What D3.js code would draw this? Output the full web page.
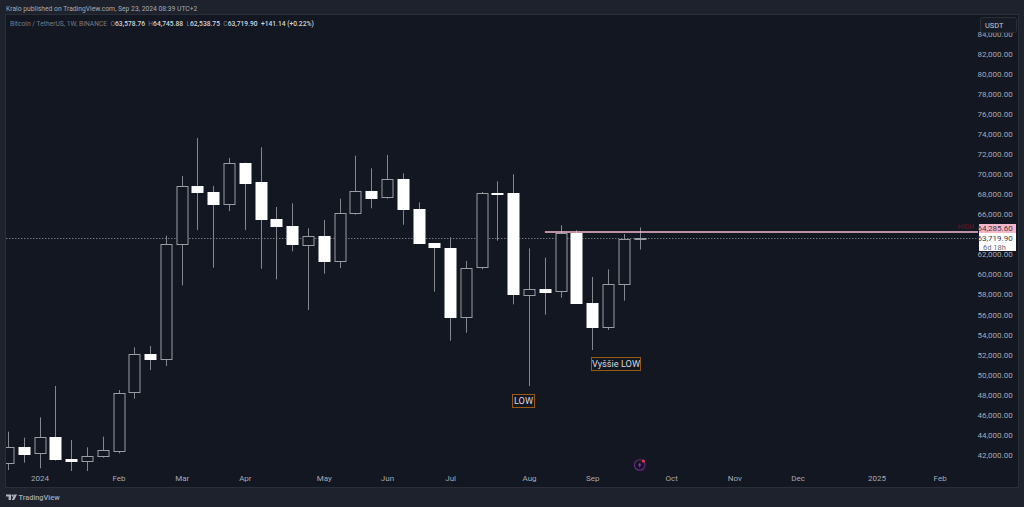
<!DOCTYPE html>
<html><head><meta charset="utf-8">
<script src="https://cdn.jsdelivr.net/npm/d3@7"></script>
<style>
html,body{margin:0;padding:0;background:#1e222d;overflow:hidden}
svg{display:block}
text{font-family:Roboto,"Liberation Sans",sans-serif}
</style></head><body>
<svg id="c" width="1024" height="507"></svg>
<script>
const opens  = [41282,42878,42219,43845,41681,41521,41950,42519,48264,52094,51626,63067,68882,68314,67157,71207,69252,65591,64892,63067,63925,61431,66219,68414,67715,69551,66588,63167,62728,55815,60733,68154,68154,58080,58638,58379,64194,57242,54818,59077,63578.76];
const closes = [42878,42219,43845,41681,41521,41980,42519,48264,52094,51626,63067,68882,68314,67157,71207,69252,65591,64892,63067,63925,61431,66219,68414,67715,69551,66588,63167,62728,55815,60733,68154,68084,58080,58638,58379,64194,57242,54818,59077,63578,63719.90];
const highs  = [44374,43776,45810,48932,43546,42818,43875,48533,52793,52922,63925,69880,73670,68882,71675,71207,72743,66788,67157,64663,65491,67615,71905,70648,71975,70149,67257,63167,63765,61401,68284,69351,70050,62668,61730,64962,64463,59805,60573,64094,64745.88];
const lows   = [40553,41282,40723,41481,40384,40384,41780,42219,47666,50528,50927,58977,64493,60733,66389,64493,60633,59576,62369,56513,60134,60703,66020,66658,67615,65022,63167,58339,53451,54249,60573,63426,57082,48932,56045,57740,57182,52523,54518,57441,62538.75];
const priceTicks = [42000,44000,46000,48000,50000,52000,54000,56000,58000,60000,62000,66000,68000,70000,72000,74000,76000,78000,80000,82000,84000];
const timeTickIndex = [2,7,11,15,20,24,28,33,37,42,46,50,55,59];
const timeTickLabels = ["2024","Feb","Mar","Apr","May","Jun","Jul","Aug","Sep","Oct","Nov","Dec","2025","Feb"];
const highLevel = 64285.60, lastPrice = 63719.90;
const legendParts = [["Bitcoin / TetherUS, 1W, BINANCE  ","#787b86"],["O","#787b86"],["63,578.76 ","#d1d4dc"],[" H","#787b86"],["64,745.88 ","#d1d4dc"],[" L","#787b86"],["62,538.75 ","#d1d4dc"],[" C","#787b86"],["63,719.90 ","#d1d4dc"],[" +141.14 (+0.22%)","#d1d4dc"]];

const W=1024,H=507;
const plot={l:6,t:15,r:1018,b:487};
const svg=d3.select("#c");
const x=d3.scaleLinear().domain([0,59]).range([8,939.6]);
const y=d3.scaleLinear().domain([42000,82000]).range([455.5,54.5]);
const fmt=d3.format(",.2f");

svg.append("rect").attr("width",W).attr("height",H).attr("fill","#1e222d");
svg.append("rect").attr("x",plot.l).attr("y",plot.t).attr("width",plot.r-plot.l).attr("height",plot.b-plot.t).attr("fill","#131722");
svg.append("path").attr("d",`M${plot.l-.5},${plot.t-.5}H${plot.r+.5}V${plot.b+.5}H${plot.l-.5}Z`).attr("fill","none").attr("stroke","#2a2e39");
svg.append("defs").append("clipPath").attr("id","pc").append("rect").attr("x",plot.l).attr("y",plot.t).attr("width",978-plot.l).attr("height",470-plot.t+1);

// price axis
const ya=svg.append("g").attr("transform","translate(1012.7,-0.7)")
  .call(d3.axisLeft(y).tickValues(priceTicks).tickSize(0).tickPadding(0).tickFormat(fmt));
ya.select(".domain").remove();
ya.selectAll("text").attr("fill","#a6a9b2").attr("font-size","8px").attr("font-family","Roboto,sans-serif").attr("text-anchor","end");

// time axis
const xa=svg.append("g").attr("transform","translate(0,475)")
  .call(d3.axisBottom(x).tickValues(timeTickIndex).tickSize(0).tickPadding(0).tickFormat((d,i)=>timeTickLabels[i]));
xa.select(".domain").remove();
xa.selectAll("text").attr("fill","#a6a9b2").attr("font-size","8px").attr("font-family","Roboto,sans-serif");

// last price dashed line
const marks=svg.append("g").attr("clip-path","url(#pc)");
marks.append("line").attr("x1",plot.l).attr("x2",978).attr("y1",Math.round(y(lastPrice))+.5).attr("y2",Math.round(y(lastPrice))+.5)
  .attr("stroke","#70737c").attr("stroke-dasharray","1.5 1.5");

const candles=marks.selectAll("g.c").data(opens.map((o,i)=>({i,o,c:closes[i],h:highs[i],l:lows[i]}))).join("g").attr("class","c");
candles.append("line").attr("x1",d=>Math.round(x(d.i))+.5).attr("x2",d=>Math.round(x(d.i))+.5)
  .attr("y1",d=>y(d.h)).attr("y2",d=>y(d.l)).attr("stroke","#85878f").attr("stroke-width",1);
candles.append("rect")
  .attr("x",d=>Math.round(x(d.i))-5)
  .attr("width",11)
  .attr("y",d=>Math.round(y(Math.max(d.o,d.c)))+.5)
  .attr("height",d=>Math.max(1,Math.round(Math.abs(y(d.o)-y(d.c)))))
  .attr("fill",d=>d.c>=d.o?"#131722":"#ffffff")
  .attr("stroke",d=>d.c>=d.o?"#9b9da4":"#ffffff").attr("stroke-width",1);

// HIGH line
marks.append("line").attr("x1",x(34)).attr("x2",978).attr("y1",y(highLevel)).attr("y2",y(highLevel)).attr("stroke","#f8bbd0").attr("stroke-width",1.5);
svg.append("text").attr("x",974).attr("y",229).attr("text-anchor","end").attr("fill","#6e1a26").attr("font-size","6.8px").text("HIGH");

// price labels
const lb=svg.append("g");
lb.append("rect").attr("x",979).attr("y",224).attr("width",37).attr("height",9).attr("fill","#f4b6cb");
lb.append("rect").attr("x",979).attr("y",233).attr("width",37).attr("height",18).attr("fill","#ffffff");
lb.append("text").attr("x",1012.7).attr("y",231).attr("text-anchor","end").attr("fill","#4a3a40").attr("font-size","8px").text(fmt(highLevel));
lb.append("text").attr("x",1012.7).attr("y",240.8).attr("text-anchor","end").attr("fill","#3a3d46").attr("font-size","8px").text(fmt(lastPrice));
lb.append("text").attr("x",983).attr("y",249.6).attr("fill","#6a6d76").attr("font-size","7.5px").text("6d 18h");

// USDT
svg.append("rect").attr("x",980.5).attr("y",17.5).attr("width",36).attr("height",15).attr("rx",2).attr("fill","#171b25").attr("stroke","#2a2e39");
svg.append("text").attr("x",985).attr("y",27.5).attr("fill","#c8cad2").attr("font-size","7.4px").text("USDT");

// annotation boxes
function note(x0,y0,w,h,t){
  svg.append("rect").attr("x",x0+.5).attr("y",y0+.5).attr("width",w).attr("height",h).attr("fill","#131722").attr("stroke","#96590f");
  svg.append("text").attr("x",x0+w/2+.5).attr("y",y0+h/2+3.4).attr("text-anchor","middle").attr("fill","#d8d9de").attr("font-size","9.2px").text(t);
}
note(512,394,22,13,"LOW");
note(591,357,49,13,"Vyššie LOW");

// header + legend
svg.append("text").attr("x",6).attr("y",11).attr("fill","#a6a9b2").attr("font-size","6.75px").text("Kralo published on TradingView.com, Sep 23, 2024 08:39 UTC+2");
const leg=svg.append("text").attr("x",10).attr("y",25.5).attr("font-size","6.7px").attr("xml:space","preserve").style("white-space","pre");
leg.selectAll("tspan").data(legendParts).join("tspan").attr("fill",d=>d[1]).attr("font-weight",d=>d[1]==="#d1d4dc"?500:400).text(d=>d[0]);

// icon
const ic=svg.append("g").attr("transform","translate(639.7,465)");
ic.append("circle").attr("r",5.3).attr("fill","none").attr("stroke","#6f2a8c").attr("stroke-width",1.1);
ic.append("path").attr("d","M0.8,-3L-1.8,0.6H-0.2L-0.8,3L1.8,-0.6H0.2Z").attr("fill","#8f3fb0");
ic.append("circle").attr("cx",3.7).attr("cy",-4).attr("r",1.5).attr("fill","#f23645");

// TradingView logo
const logo=svg.append("g").attr("transform","translate(6,494)").attr("fill","#b2b5be");
logo.append("path").attr("d","M0,0.5H5V6H2.6V2.6H0Z");
logo.append("circle").attr("cx",6.6).attr("cy",1.6).attr("r",1.1);
logo.append("path").attr("d","M8.2,0.5H11L8.2,6H5.8Z");
svg.append("text").attr("x",18.5).attr("y",500).attr("fill","#a6a9b2").attr("font-size","7.4px").attr("font-weight",500).text("TradingView");
</script>
</body></html>
